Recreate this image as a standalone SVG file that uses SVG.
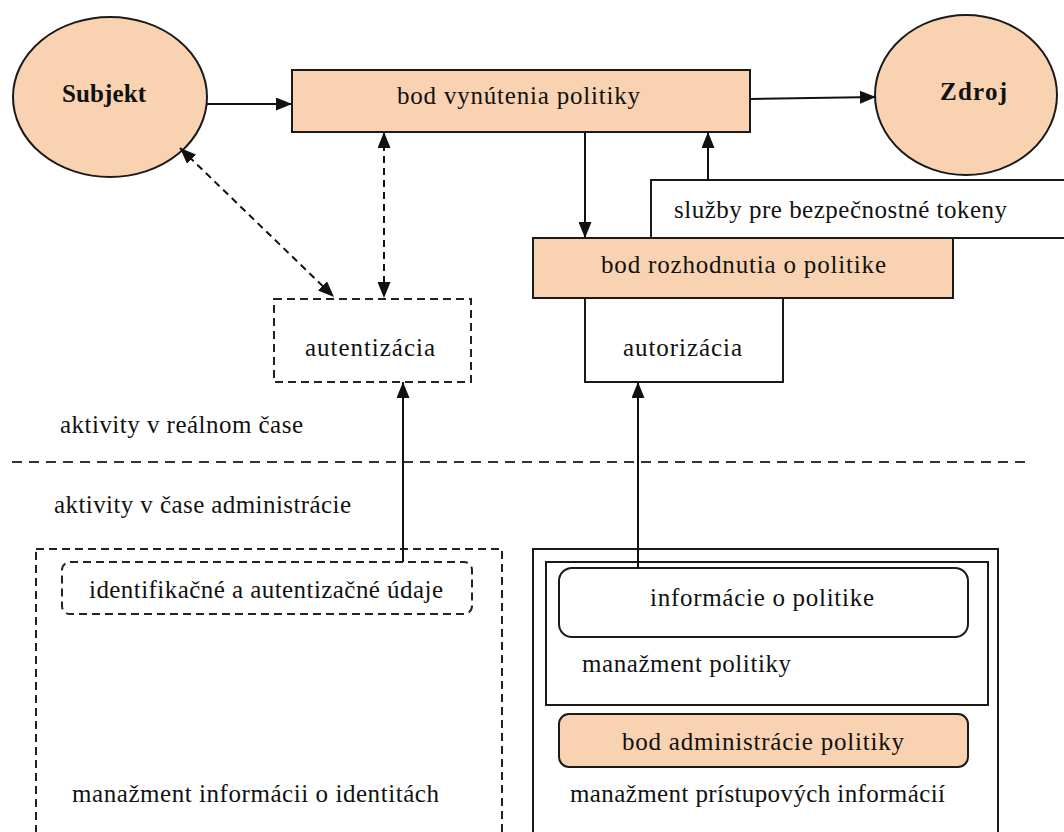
<svg xmlns="http://www.w3.org/2000/svg" width="1064" height="832" viewBox="0 0 1064 832">
  <defs>
    <marker id="arrow" viewBox="0 0 16 13" refX="16" refY="6.5" markerWidth="16" markerHeight="13" markerUnits="userSpaceOnUse" orient="auto-start-reverse">
      <path d="M0,0 L16,6.5 L0,13 z" fill="#111"/>
    </marker>
    <style>
      .peach { fill: #F9D3B1; stroke: #1a1a1a; stroke-width: 2; }
      .plain { fill: #ffffff; stroke: #1a1a1a; stroke-width: 2; }
      .dash { fill: none; stroke: #222; stroke-width: 2; stroke-dasharray: 8 5; }
      .lbl { font-family: "Liberation Serif", "Times New Roman", serif; font-size: 25px; fill: #111; }
      .bold { font-weight: bold; }
      .conn { fill: none; stroke: #111; stroke-width: 2; }
      .conn-dash { fill: none; stroke: #111; stroke-width: 2; stroke-dasharray: 7 5; }
    </style>
  </defs>

  <rect width="1064" height="832" fill="#ffffff"/>

  <!-- administration-time containers -->
  <g id="identity-mgmt">
    <rect class="dash" x="36" y="549" width="466" height="300"/>
    <text class="lbl" x="72" y="802" textLength="367" lengthAdjust="spacing">manažment informácii o identitách</text>
  </g>
  <g id="id-data">
    <rect class="dash" x="62" y="562" width="410" height="52" rx="8"/>
    <text class="lbl" x="89" y="598" textLength="354" lengthAdjust="spacing">identifikačné a autentizačné údaje</text>
  </g>

  <g id="access-mgmt">
    <rect class="plain" x="533" y="549" width="465" height="300"/>
    <text class="lbl" x="570" y="802" textLength="375" lengthAdjust="spacing">manažment prístupových informácií</text>
  </g>
  <g id="policy-mgmt">
    <rect class="plain" x="546" y="562" width="442" height="143"/>
    <text class="lbl" x="582" y="672" textLength="209" lengthAdjust="spacing">manažment politiky</text>
  </g>
  <g id="policy-info">
    <rect class="plain" x="559" y="568" width="409" height="69" rx="13"/>
    <text class="lbl" x="650" y="606" textLength="224" lengthAdjust="spacing">informácie o politike</text>
  </g>
  <g id="pap">
    <rect class="peach" x="559" y="714" width="409" height="53" rx="10"/>
    <text class="lbl" x="622" y="750" textLength="282" lengthAdjust="spacing">bod administrácie politiky</text>
  </g>

  <!-- real-time / administration-time separator -->
  <g id="separator">
    <line x1="12" y1="462" x2="1026" y2="462" stroke="#333" stroke-width="2" stroke-dasharray="10 7"/>
    <text class="lbl" x="60" y="433" textLength="243" lengthAdjust="spacing">aktivity v reálnom čase</text>
    <text class="lbl" x="54" y="513" textLength="297" lengthAdjust="spacing">aktivity v čase administrácie</text>
  </g>

  <!-- real-time nodes -->
  <g id="subjekt">
    <ellipse class="peach" cx="110" cy="97" rx="97" ry="80"/>
    <text class="lbl bold" x="62" y="102" textLength="84" lengthAdjust="spacing">Subjekt</text>
  </g>
  <g id="pep">
    <rect class="peach" x="292" y="70" width="458" height="62"/>
    <text class="lbl" x="397" y="104" textLength="243" lengthAdjust="spacing">bod vynútenia politiky</text>
  </g>
  <g id="zdroj">
    <ellipse class="peach" cx="966" cy="95" rx="91" ry="80"/>
    <text class="lbl bold" x="940" y="100" textLength="67" lengthAdjust="spacing">Zdroj</text>
  </g>
  <g id="sts">
    <rect class="plain" x="651" y="180" width="420" height="58"/>
    <text class="lbl" x="674" y="218" textLength="333" lengthAdjust="spacing">služby pre bezpečnostné tokeny</text>
  </g>
  <g id="pdp">
    <rect class="peach" x="533" y="238" width="420" height="60"/>
    <text class="lbl" x="601" y="273" textLength="285" lengthAdjust="spacing">bod rozhodnutia o politike</text>
  </g>
  <g id="autorizacia">
    <rect class="plain" x="585" y="298" width="198" height="84"/>
    <text class="lbl" x="623" y="356" textLength="119" lengthAdjust="spacing">autorizácia</text>
  </g>
  <g id="autentizacia">
    <rect class="dash" x="274" y="299" width="197" height="83"/>
    <text class="lbl" x="305" y="356" textLength="130" lengthAdjust="spacing">autentizácia</text>
  </g>

  <!-- connectors -->
  <g id="connectors">
    <line class="conn" x1="207" y1="104" x2="292" y2="104" marker-end="url(#arrow)"/>
    <line class="conn" x1="750" y1="99" x2="876" y2="97" marker-end="url(#arrow)"/>
    <line class="conn" x1="585" y1="132" x2="585" y2="238" marker-end="url(#arrow)"/>
    <line class="conn" x1="708" y1="180" x2="708" y2="132" marker-end="url(#arrow)"/>
    <line class="conn-dash" x1="180" y1="148" x2="334" y2="297" marker-start="url(#arrow)" marker-end="url(#arrow)"/>
    <line class="conn-dash" x1="384" y1="132" x2="384" y2="298" marker-start="url(#arrow)" marker-end="url(#arrow)"/>
    <line class="conn" x1="403" y1="562" x2="403" y2="382" marker-end="url(#arrow)"/>
    <line class="conn" x1="638" y1="568" x2="638" y2="382" marker-end="url(#arrow)"/>
  </g>
</svg>
